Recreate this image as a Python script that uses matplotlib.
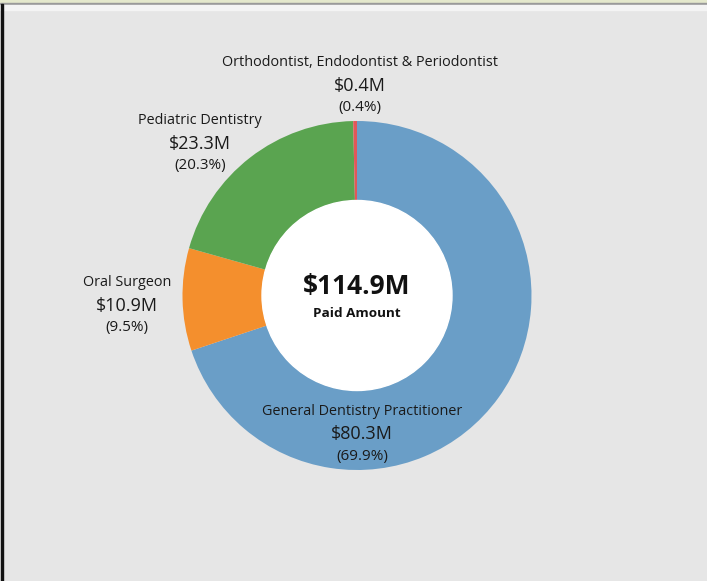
import matplotlib
matplotlib.use("Agg")
import matplotlib.pyplot as plt
from matplotlib.patches import Rectangle

plt.rcParams["font.family"] = ["Open Sans", "DejaVu Sans"]

# ---- data ------------------------------------------------------------------
names = ["General Dentistry Practitioner", "Oral Surgeon", "Pediatric Dentistry",
         "Orthodontist, Endodontist & Periodontist"]
paid = [80.3, 10.9, 23.3, 0.4]          # $M
pct = [69.9, 9.5, 20.3, 0.4]
colors = ["#6a9ec7", "#f48f2d", "#5aa450", "#e15759"]
total = 114.9

W, H = 707, 581
fig = plt.figure(figsize=(W / 100, H / 100), dpi=100)
fig.patch.set_facecolor("#e6e6e6")

# window chrome at top / left edge
fig.patches.append(Rectangle((0, 1 - 4 / H), 1, 4 / H, transform=fig.transFigure,
                             color="#e4e8cc", zorder=0))
fig.patches.append(Rectangle((0, 1 - 5 / H), 1, 1.5 / H, transform=fig.transFigure,
                             color="#9a9a9a", zorder=0))
fig.patches.append(Rectangle((0, 1 - 10 / H), 1, 5 / H, transform=fig.transFigure,
                             color="#f4f4f4", zorder=0))
fig.patches.append(Rectangle((1 / W, 0), 2 / W, 1 - 4 / H, transform=fig.transFigure,
                             color="#111111", zorder=1))

# pie axes: center (357, 295.5), radius 174.5 px
cx, cy, R = 357, 295.5, 174.5
ax = fig.add_axes([(cx - R) / W, 1 - (cy + R) / H, 2 * R / W, 2 * R / H])
ax.set_facecolor("none")
ax.pie(paid, colors=colors, startangle=90, counterclock=False, radius=1,
       wedgeprops=dict(width=1 - 95 / R, linewidth=0))
ax.set_xlim(-1, 1); ax.set_ylim(-1, 1); ax.set_aspect("equal")
ax.add_patch(plt.Circle((0, 0), 95 / R, color="white", zorder=3))
ax.axis("off")

ax.text(0, 0.05, f"${total}M", ha="center", va="center", fontsize=19,
        fontweight="bold", color="#111111", zorder=4)
ax.text(0, -0.105, "Paid Amount", ha="center", va="center", fontsize=9.7,
        fontweight="bold", color="#111111", zorder=4)

# labels (pixel positions of name line centres)
label_pos = [(362, 411.5), (127, 282.5), (200, 120.5), (360, 62.5)]


def fy(y):
    return 1 - y / H


for name, v, p, (x, y) in zip(names, paid, pct, label_pos):
    fig.text(x / W, fy(y), name, ha="center", va="center", fontsize=10.4, color="#1a1a1a")
    fig.text(x / W, fy(y + 23), f"${v}M", ha="center", va="center", fontsize=13, color="#1a1a1a")
    fig.text(x / W, fy(y + 45), f"({p}%)", ha="center", va="center", fontsize=11, color="#1a1a1a")

fig.savefig("out.png", dpi=100, facecolor=fig.get_facecolor())
